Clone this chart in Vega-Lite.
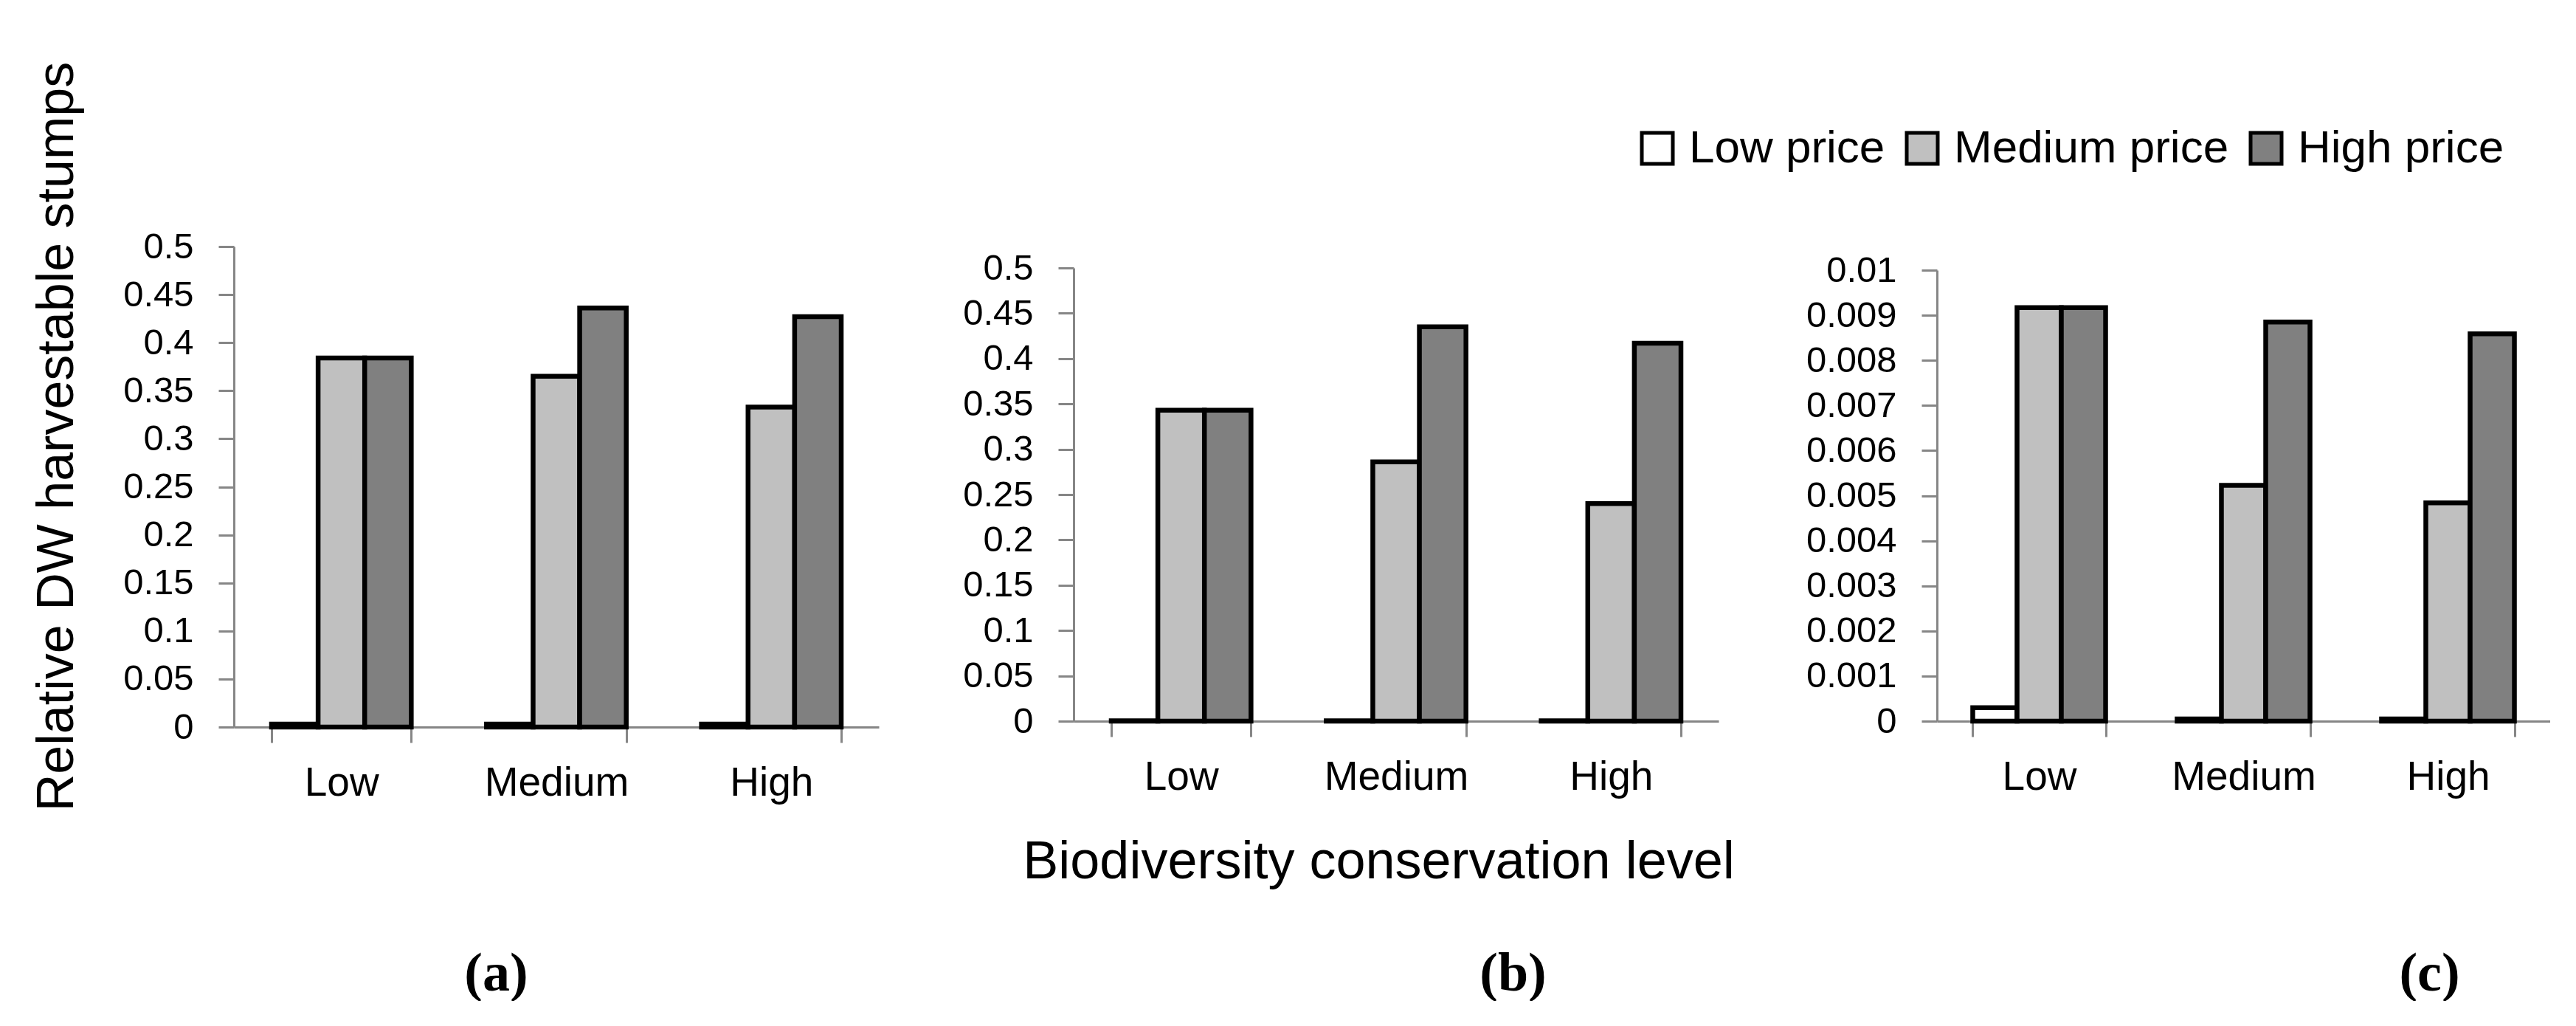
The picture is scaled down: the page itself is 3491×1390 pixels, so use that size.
{
  "$schema": "https://vega.github.io/schema/vega-lite/v6.json",
  "background": "white",
  "padding": {"left": 41, "top": 83, "right": 0, "bottom": 0},
  "bounds": "flush",
  "spacing": 264,
  "data": {
    "values": [
      {"panel": "a", "level": "Low", "price": "Low price", "value": 0.003},
      {"panel": "a", "level": "Low", "price": "Medium price", "value": 0.384},
      {"panel": "a", "level": "Low", "price": "High price", "value": 0.384},
      {"panel": "a", "level": "Medium", "price": "Low price", "value": 0.003},
      {"panel": "a", "level": "Medium", "price": "Medium price", "value": 0.365},
      {"panel": "a", "level": "Medium", "price": "High price", "value": 0.436},
      {"panel": "a", "level": "High", "price": "Low price", "value": 0.003},
      {"panel": "a", "level": "High", "price": "Medium price", "value": 0.333},
      {"panel": "a", "level": "High", "price": "High price", "value": 0.427},
      {"panel": "b", "level": "Low", "price": "Low price", "value": 0.0005},
      {"panel": "b", "level": "Low", "price": "Medium price", "value": 0.343},
      {"panel": "b", "level": "Low", "price": "High price", "value": 0.343},
      {"panel": "b", "level": "Medium", "price": "Low price", "value": 0.0005},
      {"panel": "b", "level": "Medium", "price": "Medium price", "value": 0.286},
      {"panel": "b", "level": "Medium", "price": "High price", "value": 0.435},
      {"panel": "b", "level": "High", "price": "Low price", "value": 0.0005},
      {"panel": "b", "level": "High", "price": "Medium price", "value": 0.240},
      {"panel": "b", "level": "High", "price": "High price", "value": 0.417},
      {"panel": "c", "level": "Low", "price": "Low price", "value": 0.0003},
      {"panel": "c", "level": "Low", "price": "Medium price", "value": 0.00917},
      {"panel": "c", "level": "Low", "price": "High price", "value": 0.00917},
      {"panel": "c", "level": "Medium", "price": "Low price", "value": 0.00005},
      {"panel": "c", "level": "Medium", "price": "Medium price", "value": 0.00523},
      {"panel": "c", "level": "Medium", "price": "High price", "value": 0.00885},
      {"panel": "c", "level": "High", "price": "Low price", "value": 0.00005},
      {"panel": "c", "level": "High", "price": "Medium price", "value": 0.00484},
      {"panel": "c", "level": "High", "price": "High price", "value": 0.00859}
    ]
  },
  "resolve": {"scale": {"x": "independent", "y": "independent", "xOffset": "independent", "color": "shared"}, "legend": {"color": "shared"}},
  "hconcat": [
    {
      "width": 874,
      "height": 651,
      "transform": [{"filter": "datum.panel == 'a'"}],
      "mark": {"type": "bar", "stroke": "black", "strokeWidth": 6.5},
      "encoding": {
        "x": {"field": "level", "type": "nominal", "sort": ["Low", "Medium", "High"], "scale": {"paddingInner": 0.35, "paddingOuter": 0.175}, "axis": {"title": "(a)", "titleFont": "Liberation Serif", "titleFontSize": 74, "titleFontWeight": "bold", "titleColor": "black", "titleX": 355, "titleY": 356, "titleBaseline": "alphabetic", "titleAlign": "center"}},
        "xOffset": {"field": "price", "type": "nominal", "sort": ["Low price", "Medium price", "High price"], "scale": {"paddingInner": 0, "paddingOuter": 0}},
        "y": {"field": "value", "type": "quantitative", "scale": {"domain": [0, 0.5]}, "axis": {"values": [0, 0.05, 0.1, 0.15, 0.2, 0.25, 0.3, 0.35, 0.4, 0.45, 0.5], "format": ".2~f", "title": "Relative DW harvestable stumps", "titleFont": "Liberation Sans", "titleFontSize": 70, "titleFontWeight": "normal", "titleColor": "black", "titleX": -219, "titleY": 257, "titleAngle": 270, "titleBaseline": "alphabetic", "titleAlign": "center", "titleLimit": 2000}},
        "color": {"field": "price", "type": "nominal", "sort": ["Low price", "Medium price", "High price"], "scale": {"domain": ["Low price", "Medium price", "High price"], "range": ["#ffffff", "#c0c0c0", "#808080"]}, "legend": {"orient": "none", "legendX": 1898, "legendY": -164, "direction": "horizontal", "title": null, "symbolType": "square", "symbolSize": 1764, "symbolStrokeColor": "black", "symbolStrokeWidth": 5, "labelFont": "Liberation Sans", "labelFontSize": 62, "labelColor": "black", "labelOffset": 12, "labelLimit": 2000, "columnPadding": 19, "padding": 0}}
      }
    },
    {
      "width": 906,
      "height": 643,
      "transform": [{"filter": "datum.panel == 'b'"}],
      "mark": {"type": "bar", "stroke": "black", "strokeWidth": 6.5},
      "encoding": {
        "x": {"field": "level", "type": "nominal", "sort": ["Low", "Medium", "High"], "scale": {"range": [0, 874], "paddingInner": 0.35, "paddingOuter": 0.175}, "axis": {"title": "Biodiversity conservation level", "titleFont": "Liberation Sans", "titleFontSize": 72, "titleFontWeight": "normal", "titleColor": "black", "titleX": 413, "titleY": 212, "titleBaseline": "alphabetic", "titleAlign": "center", "titleLimit": 2000}},
        "xOffset": {"field": "price", "type": "nominal", "sort": ["Low price", "Medium price", "High price"], "scale": {"paddingInner": 0, "paddingOuter": 0}},
        "y": {"field": "value", "type": "quantitative", "scale": {"domain": [0, 0.5], "range": [643, 29]}, "axis": {"values": [0, 0.05, 0.1, 0.15, 0.2, 0.25, 0.3, 0.35, 0.4, 0.45, 0.5], "format": ".2~f", "title": "(b)", "titleFont": "Liberation Serif", "titleFontSize": 74, "titleFontWeight": "bold", "titleColor": "black", "titleAngle": 0, "titleX": 595, "titleY": 1007, "titleBaseline": "alphabetic", "titleAlign": "center"}},
        "color": {"field": "price", "type": "nominal", "sort": ["Low price", "Medium price", "High price"], "scale": {"domain": ["Low price", "Medium price", "High price"], "range": ["#ffffff", "#c0c0c0", "#808080"]}, "legend": {"orient": "none", "legendX": 1898, "legendY": -164, "direction": "horizontal", "title": null, "symbolType": "square", "symbolSize": 1764, "symbolStrokeColor": "black", "symbolStrokeWidth": 5, "labelFont": "Liberation Sans", "labelFontSize": 62, "labelColor": "black", "labelOffset": 12, "labelLimit": 2000, "columnPadding": 19, "padding": 0}}
      }
    },
    {
      "width": 831,
      "height": 643,
      "transform": [{"filter": "datum.panel == 'c'"}],
      "mark": {"type": "bar", "stroke": "black", "strokeWidth": 6.5},
      "encoding": {
        "x": {"field": "level", "type": "nominal", "sort": ["Low", "Medium", "High"], "scale": {"paddingInner": 0.35, "paddingOuter": 0.175}, "axis": {"title": null}},
        "xOffset": {"field": "price", "type": "nominal", "sort": ["Low price", "Medium price", "High price"], "scale": {"paddingInner": 0, "paddingOuter": 0}},
        "y": {"field": "value", "type": "quantitative", "scale": {"domain": [0, 0.01], "range": [643, 32]}, "axis": {"values": [0, 0.001, 0.002, 0.003, 0.004, 0.005, 0.006, 0.007, 0.008, 0.009, 0.01], "format": ".3~f", "title": "(c)", "titleFont": "Liberation Serif", "titleFontSize": 74, "titleFontWeight": "bold", "titleColor": "black", "titleAngle": 0, "titleX": 667, "titleY": 1007, "titleBaseline": "alphabetic", "titleAlign": "center"}},
        "color": {"field": "price", "type": "nominal", "sort": ["Low price", "Medium price", "High price"], "scale": {"domain": ["Low price", "Medium price", "High price"], "range": ["#ffffff", "#c0c0c0", "#808080"]}, "legend": {"orient": "none", "legendX": 1898, "legendY": -164, "direction": "horizontal", "title": null, "symbolType": "square", "symbolSize": 1764, "symbolStrokeColor": "black", "symbolStrokeWidth": 5, "labelFont": "Liberation Sans", "labelFontSize": 62, "labelColor": "black", "labelOffset": 12, "labelLimit": 2000, "columnPadding": 19, "padding": 0}}
      }
    }
  ],
  "config": {
    "font": "Liberation Sans",
    "view": {"stroke": null},
    "axis": {"grid": false, "domainColor": "#868686", "domainWidth": 3, "tickColor": "#868686", "tickWidth": 3, "tickSize": 21, "labelFont": "Liberation Sans", "labelColor": "black", "labelLimit": 2000},
    "axisY": {"labelFontSize": 49, "labelPadding": 34},
    "axisX": {"labelFontSize": 55, "labelPadding": 28, "labelAngle": 0, "tickBand": "extent"}
  }
}
